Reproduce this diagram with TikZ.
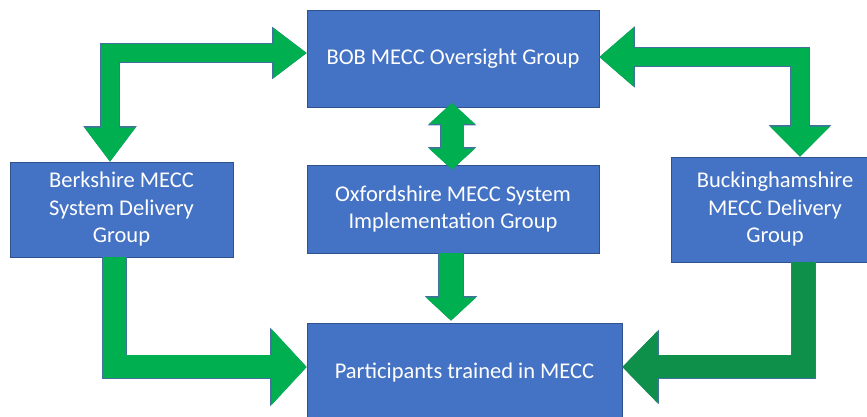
\documentclass[tikz,border=0pt]{standalone}
\usepackage{fontspec}
\setmainfont{Carlito}
\usetikzlibrary{arrows.meta, calc}
\definecolor{boxblue}{HTML}{4472C4}
\definecolor{boxedge}{HTML}{2F528F}
\definecolor{flowgreen}{HTML}{00B050}
\definecolor{flowdark}{HTML}{0E904A}
\definecolor{flowedge}{HTML}{41719C}
\tikzset{
  box/.style={draw=boxedge, fill=boxblue, line width=0.8pt, text=white, align=center,
    inner sep=0pt, font=\fontsize{22.5}{27.5}\selectfont},
  flow/.style={draw=flowgreen, line join=miter},
}
\begin{document}
\begin{tikzpicture}[x=1pt, y=1pt]
\useasboundingbox (0,0) rectangle (867,417);

% groups
\node[box, minimum width=292pt, minimum height=97pt] (bob) at (453,358.5) {BOB MECC Oversight Group};
\node[box, minimum width=223pt, minimum height=95pt] (berk) at (121.5,207.5) {Berkshire MECC\\System Delivery\\Group};
\node[box, minimum width=292pt, minimum height=88pt] (oxf) at (453,208) {Oxfordshire MECC System\\Implementation Group};
\node[box, minimum width=208pt, minimum height=105pt] (buck) at (775,207.5) {Buckinghamshire\\MECC Delivery\\Group};
\node[box, minimum width=315pt, minimum height=100pt] (part) at (464.5,44) {Participants trained in MECC};

% links to the oversight group
\draw[flow, line width=18pt, {Triangle[width=51pt,length=34pt,line width=0pt]}-{Triangle[width=50pt,length=33pt,line width=0pt]},
  preaction={draw=flowedge, line width=19.4pt, {Triangle[width=53.5pt,length=35.5pt,line width=0pt]}-{Triangle[width=52.5pt,length=34.5pt,line width=0pt]}}]
  ([xshift=-11.5pt]berk.north) |- ([yshift=5.5pt]bob.west);
\draw[flow, line width=18pt, {Triangle[width=59pt,length=34pt,line width=0pt]}-{Triangle[width=60pt,length=30pt,line width=0pt]},
  preaction={draw=flowedge, line width=19.4pt, {Triangle[width=61.5pt,length=35.5pt,line width=0pt]}-{Triangle[width=62.5pt,length=31.5pt,line width=0pt]}}]
  ([yshift=1.5pt]bob.east) -| ([xshift=25pt]buck.north);
\draw[flow, line width=23pt, {Triangle[width=46pt,length=21pt,line width=0pt]}-{Triangle[width=46pt,length=21pt,line width=0pt]},
  preaction={draw=flowedge, line width=24.4pt, {Triangle[width=48.5pt,length=22.5pt,line width=0pt]}-{Triangle[width=48.5pt,length=22.5pt,line width=0pt]}}]
  ([xshift=-1pt,yshift=-5pt]oxf.north) -- ([xshift=-1pt,yshift=4.5pt]bob.south);

% links to the participants
\draw[flow, line width=24pt, -{Triangle[width=50pt,length=23pt,line width=0pt]},
  preaction={draw=flowedge, line width=25.4pt, -{Triangle[width=52.5pt,length=24.5pt,line width=0pt]}}]
  ([xshift=-2pt]oxf.south) -- ([xshift=-2pt,yshift=2pt]oxf.south |- part.north);
\draw[flow, line width=23pt, -{Triangle[width=76pt,length=35pt,line width=0pt]},
  preaction={draw=flowedge, line width=24.4pt, -{Triangle[width=78.5pt,length=36.5pt,line width=0pt]}}]
  ([xshift=-7pt]berk.south) |- ([yshift=6pt]part.west);
\draw[flow, draw=flowdark, line width=23pt, -{Triangle[width=72pt,length=35pt,line width=0pt]},
  preaction={draw=flowedge, line width=24.4pt, -{Triangle[width=74.5pt,length=36.5pt,line width=0pt]}}]
  ([xshift=28.5pt]buck.south) |- ([yshift=6pt]part.east);
\end{tikzpicture}
\end{document}
